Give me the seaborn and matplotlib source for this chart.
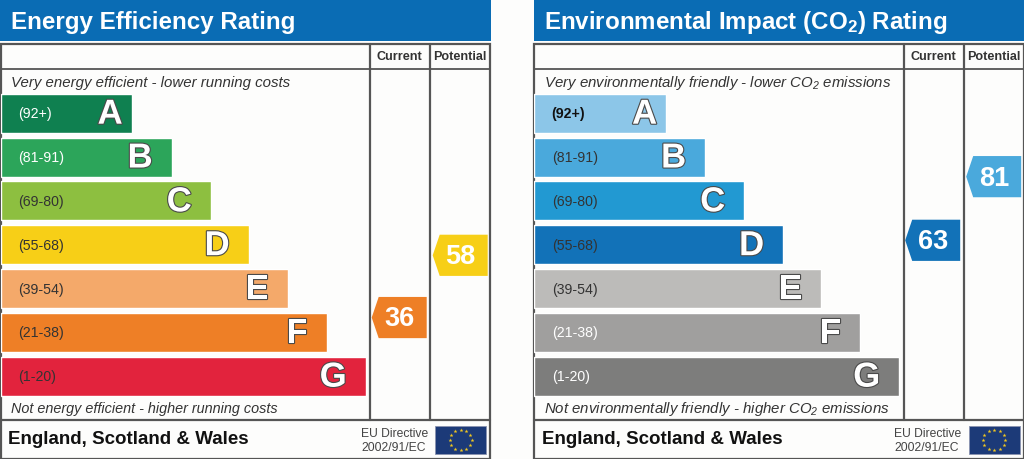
import numpy as np
import pandas as pd
import matplotlib
matplotlib.use("Agg")
import matplotlib.pyplot as plt
import matplotlib.patheffects as pe
from matplotlib.patches import Rectangle, Polygon
import seaborn as sns

letters = ["A", "B", "C", "D", "E", "F", "G"]
band_labels = ["(92+)", "(81-91)", "(69-80)", "(55-68)", "(39-54)", "(21-38)", "(1-20)"]
band_low = [92, 81, 69, 55, 39, 21, 1]
band_high = [100, 91, 80, 68, 54, 38, 20]

energy_lengths = [131, 171, 210, 248, 287, 326, 365]
energy_colors = ["#0f8050", "#2ca55a", "#8dbf40", "#f7cf17", "#f4a96a", "#ee7f26", "#e2233d"]
energy_label_colors = ["white", "white", "#333333", "#333333", "#333333", "#333333", "#333333"]
energy_current = 36
energy_potential = 58

env_lengths = [132, 171, 210, 249, 287, 326, 365]
env_colors = ["#8cc6e8", "#4aa9dc", "#2299d2", "#1272b8", "#bcbbb9", "#a09f9e", "#7d7d7c"]
env_label_colors = ["#111111", "#333333", "#333333", "#333333", "#333333", "white", "white"]
env_current = 63
env_potential = 81

sns.set_style("white")
plt.rcParams["font.family"] = ["Liberation Sans", "DejaVu Sans"]
plt.rcParams["mathtext.default"] = "regular"

W, H = 1024, 460
BG = "#fdfdfc"
LINE = "#555555"
BLUE = "#0a6cb4"

fig = plt.figure(figsize=(W / 100, H / 100), dpi=100, facecolor=BG)
page = fig.add_axes([0, 0, 1, 1], zorder=0)
page.set_xlim(0, W)
page.set_ylim(H, 0)
page.axis("off")


def score_to_y(score):
    # position inside the band, in the categorical units of the bar axis
    for i in range(len(letters)):
        if band_low[i] <= score <= band_high[i]:
            return i + 0.445 - (score - band_low[i]) / (band_high[i] - band_low[i]) * 0.89
    return 0


def draw_arrow(ax, x0, score, color):
    yc = score_to_y(score)
    h = 0.47
    ax.add_patch(Polygon([(x0, yc), (x0 + 7, yc - h), (x0 + 55, yc - h), (x0 + 55, yc + h), (x0 + 7, yc + h)],
                         closed=True, facecolor=color, edgecolor="none", clip_on=False, zorder=5))
    ax.text(x0 + 28, yc + 0.02, str(score), color="white", fontsize=19.5, fontweight="bold",
            ha="center", va="center", zorder=6, clip_on=False)


def band_color(score, colors):
    for i in range(len(letters)):
        if band_low[i] <= score <= band_high[i]:
            return colors[i]
    return "#888888"


def draw_panel(x0, title, top_text, bottom_text, bottom_size, lengths, colors, label_colors, current, potential):
    # header and frame
    page.add_patch(Rectangle((x0, 0), 491, 41.5, facecolor=BLUE, edgecolor="none"))
    page.text(x0 + 11, 22, title, color="white", fontsize=17.4, fontweight="bold", va="center", ha="left")
    page.add_patch(Rectangle((x0 + 0.7, 44.5), 489.5, 415, facecolor="none", edgecolor=LINE, lw=1.6))
    page.plot([x0 + 0.7, x0 + 490], [69.5, 69.5], color=LINE, lw=1.3)
    page.plot([x0 + 0.7, x0 + 490], [421, 421], color=LINE, lw=1.6)
    page.plot([x0 + 370, x0 + 370], [44.5, 421], color=LINE, lw=1.6)
    page.plot([x0 + 430, x0 + 430], [44.5, 421], color=LINE, lw=1.6)
    page.text(x0 + 399.5, 57.5, "Current", fontsize=9.1, fontweight="bold", color="#333333", ha="center", va="center")
    page.text(x0 + 460, 57.5, "Potential", fontsize=9.1, fontweight="bold", color="#333333", ha="center", va="center")
    page.text(x0 + 11, 82.5, top_text, fontsize=10.85, style="italic", color="#333333", va="center")
    page.text(x0 + 11, 409, bottom_text, fontsize=bottom_size, style="italic", color="#333333", va="center")
    page.text(x0 + 8, 440, "England, Scotland & Wales", fontsize=13.5, fontweight="bold", color="#111111", va="center")
    page.text(x0 + 361, 434, "EU Directive", fontsize=8.7, color="#444444", va="center")
    page.text(x0 + 361, 448, "2002/91/EC", fontsize=8.7, color="#444444", va="center")

    # EU flag
    fx, fy, fw, fh = x0 + 435, 427, 51, 28
    page.add_patch(Rectangle((fx, fy), fw, fh, facecolor="#1c3a78", edgecolor="#8a93b0", lw=0.6))
    ang = np.deg2rad(np.arange(0, 360, 30))
    page.scatter(fx + fw / 2 + 11 * np.cos(ang), fy + fh / 2 + 10 * np.sin(ang),
                 marker="*", s=9, color="#f2c81e", linewidths=0, zorder=3)

    # rating bars
    ax = fig.add_axes([(x0 + 0.7) / W, 1 - 399.2 / H, 489 / W, 306.8 / H], zorder=2)
    ax.patch.set_alpha(0)
    df = pd.DataFrame({"letter": letters, "length": lengths})
    sns.barplot(data=df, x="length", y="letter", hue="letter", palette=colors, order=letters,
                hue_order=letters, orient="h", width=0.89, saturation=1, legend=False, ax=ax)
    ax.set_xlim(0, 489)
    ax.set_ylim(6.5, -0.5)
    ax.set_xlabel("")
    ax.set_ylabel("")
    ax.set_xticks([])
    ax.set_yticks([])
    sns.despine(ax=ax, left=True, bottom=True)
    for i, bar_len in enumerate(lengths):
        weight = "bold" if label_colors[i] == "#111111" else "normal"
        ax.text(17.5, i, band_labels[i], color=label_colors[i], fontsize=10.2, fontweight=weight,
                va="center", ha="left")
        gap = 9 if i == 0 else 19
        ax.text(bar_len - gap, i + 0.02, letters[i], color="white", fontsize=25, fontweight="bold",
                va="center", ha="right",
                path_effects=[pe.withStroke(linewidth=1.6, foreground="#4a4a4a")])

    draw_arrow(ax, 371, current, band_color(current, colors))
    draw_arrow(ax, 432, potential, band_color(potential, colors))


draw_panel(0, "Energy Efficiency Rating",
           "Very energy efficient - lower running costs",
           "Not energy efficient - higher running costs", 10.35,
           energy_lengths, energy_colors, energy_label_colors, energy_current, energy_potential)
draw_panel(533.5, "Environmental Impact (CO$_2$) Rating",
           "Very environmentally friendly - lower CO$_2$ emissions",
           "Not environmentally friendly - higher CO$_2$ emissions", 10.85,
           env_lengths, env_colors, env_label_colors, env_current, env_potential)

fig.savefig("out.png", dpi=100, facecolor=BG)
